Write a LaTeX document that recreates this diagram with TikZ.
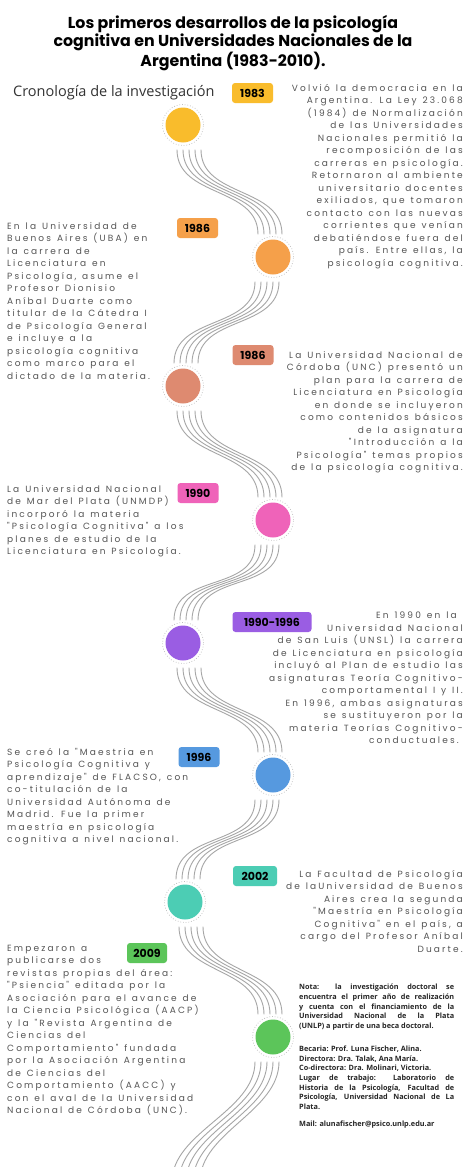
\documentclass[tikz,border=0pt]{standalone}
\usepackage{fontspec}
\setmainfont{Poppins}
\newfontfamily\bodyfam[LetterSpace=24,WordSpace=1.3]{Poppins}
\newfontfamily\cronofam{Open Sans}
\usetikzlibrary{calc}

\definecolor{txt}{HTML}{555555}
\definecolor{yel}{HTML}{F9BC2C}
\definecolor{ora}{HTML}{F5A04A}
\definecolor{sal}{HTML}{DE8A70}
\definecolor{pnk}{HTML}{EF63B9}
\definecolor{pur}{HTML}{9A5DE3}
\definecolor{blu}{HTML}{5699DF}
\definecolor{tea}{HTML}{4CCDB4}
\definecolor{grn}{HTML}{5CC55A}

\newcommand{\fTitle}{\fontsize{15.8}{17}\selectfont\bfseries}
\newcommand{\fYear}{\fontsize{11}{13}\selectfont\bfseries}
\newcommand{\fBody}{\bodyfam\fontsize{9}{12.5}\selectfont}
\newcommand{\fCrono}{\cronofam\fontsize{14.5}{16}\selectfont}
\newcommand{\fNote}{\cronofam\bfseries\fontsize{7.3}{9.6}\selectfont}

\begin{document}
\begin{tikzpicture}[x=1pt,y=-1pt,
  event/.style={circle,minimum size=35pt,inner sep=0pt},
  ring/.style={draw=gray!55,dotted,line width=0.7pt},
  wave/.style={draw=gray!70,line width=0.9pt},
  year/.style={rounded corners=3pt,minimum width=41pt,minimum height=20pt,inner sep=0pt,font=\fYear},
  lefttext/.style={anchor=north west,align=left,inner sep=0pt,font=\fBody,text=txt},
  righttext/.style={anchor=north east,align=right,inner sep=0pt,font=\fBody,text=txt},
  notetext/.style={anchor=north west,inner sep=0pt,text width=155pt,align=justify,font=\fNote,text=black!85}]

\fill[white] (0,0) rectangle (467,1167);
\useasboundingbox (0,0) rectangle (467,1167);

% title
\node[font=\fTitle,align=center] (title) at (233,43) {Los primeros desarrollos de la psicología\\cognitiva en Universidades Nacionales de la\\Argentina (1983-2010).};
\node[anchor=west,inner sep=0pt,font=\fCrono,text=black!80] (crono) at (13,93) {Cronología de la investigación};

% timeline dots
\node[event,fill=yel] (c1983) at (183,125) {};
\node[event,fill=ora] (c1986a) at (273,257) {};
\node[event,fill=sal] (c1986b) at (183,386) {};
\node[event,fill=pnk] (c1990) at (273,520) {};
\node[event,fill=pur] (c9096) at (183,643) {};
\node[event,fill=blu] (c1996) at (273,775) {};
\node[event,fill=tea] (c2002) at (185,902) {};
\node[event,fill=grn] (c2009) at (273,1037) {};
\coordinate (tail) at (186,1182);

\foreach \n in {c1983,c1986a,c1986b,c1990,c9096,c1996,c2002,c2009}
  \draw[ring] (\n) circle[radius=20.5pt];

% wavy bundles
\foreach \a/\b/\s in {c1983/c1986a/1,c1986a/c1986b/-1,c1986b/c1990/1,c1990/c9096/-1,c9096/c1996/1,c1996/c2002/-1,c2002/c2009/1}
  \foreach \i in {0,...,4}
    \draw[wave] ([xshift={(6*(\s)-12+6*\i)*1pt},yshift=-7pt]\a.south) .. controls +(0,48) and +(0,-48) .. ([xshift={(-3*(\s)-12+6*\i)*1pt},yshift=5pt]\b.north);
\foreach \i in {0,...,4}
  \draw[wave] ([xshift={(-18+6*\i)*1pt},yshift=-7pt]c2009.south) .. controls +(0,50) and +(0,-50) .. ([xshift={(-14+7*\i)*1pt}]tail);

% year labels
\node[year,fill=yel] (y1983) at (252.5,93) {1983};
\node[year,fill=ora] (y1986a) at (197.5,228) {1986};
\node[year,fill=sal] (y1986b) at (253,355) {1986};
\node[year,fill=pnk] (y1990) at (198,493) {1990};
\node[year,fill=pur,minimum width=79pt] (y9096) at (272,622) {1990-1996};
\node[year,fill=blu] (y1996) at (199,757) {1996};
\node[year,fill=tea,minimum width=44pt] (y2002) at (255,876) {2002};
\node[year,fill=grn,minimum width=40pt] (y2009) at (147,953) {2009};

% texts
\node[righttext] (t1983) at (463,84) {Volvió la democracia en la\\Argentina. La Ley 23.068\\(1984) de Normalización\\de las Universidades\\Nacionales permitió la\\recomposición de las\\carreras en psicología.\\Retornaron al ambiente\\universitario docentes\\exiliados, que tomaron\\contacto con las nuevas\\corrientes que venían\\debatiéndose fuera del\\país. Entre ellas, la\\psicología cognitiva.};
\node[lefttext] (t1986a) at (7,222) {En la Universidad de\\Buenos Aires (UBA) en\\la carrera de\\Licenciatura en\\Psicología, asume el\\Profesor Dionisio\\Aníbal Duarte como\\titular de la Cátedra I\\de Psicología General\\e incluye a la\\psicología cognitiva\\como marco para el\\dictado de la materia.};
\node[righttext] (t1986b) at (463,351) {La Universidad Nacional de\\Córdoba (UNC) presentó un\\plan para la carrera de\\Licenciatura en Psicología\\en donde se incluyeron\\como contenidos básicos\\de la asignatura\\"Introducción a la\\Psicología" temas propios\\de la psicología cognitiva.};
\node[lefttext] (t1990) at (7,485) {La Universidad Nacional\\de Mar del Plata (UNMDP)\\incorporó la materia\\"Psicología Cognitiva" a los\\planes de estudio de la\\Licenciatura en Psicología.};
\node[righttext] (t9096) at (463,612) {En 1990 en la\hspace*{6pt}\\Universidad Nacional\hspace*{4pt}\\de San Luis (UNSL) la carrera\\de Licenciatura en psicología\\incluyó al Plan de estudio las\\asignaturas Teoría Cognitivo-\\comportamental I y II.\\En 1996, ambas asignaturas\\se sustituyeron por la\\materia Teorías Cognitivo-\\conductuales.\hspace*{4pt}};
\node[lefttext] (t1996) at (7,748) {Se creó la "Maestria en\\Psicología Cognitiva y\\aprendizaje" de FLACSO, con\\co-titulación de la\\Universidad Autónoma de\\Madrid. Fue la primer\\maestría en psicología\\cognitiva a nivel nacional.};
\node[righttext] (t2002) at (463,870) {La Facultad de Psicología\\de laUniversidad de Buenos\\Aires crea la segunda\\"Maestría en Psicología\\Cognitiva" en el país, a\\cargo del Profesor Aníbal\\Duarte.};
\node[lefttext] (t2009) at (7,945) {Empezaron a\\publicarse dos\\revistas propias del área:\\"Psiencia" editada por la\\Asociación para el avance de\\la Ciencia Psicológica (AACP)\\y la "Revista Argentina de\\Ciencias del\\Comportamiento" fundada\\por la Asociación Argentina\\de Ciencias del\\Comportamiento (AACC) y\\con el aval de la Universidad\\Nacional de Córdoba (UNC).};

% note
\node[notetext] (nota) at (299,984) {Nota: la investigación doctoral se\linebreak encuentra el primer año de realización\linebreak y cuenta con el financiamiento de la\linebreak Universidad Nacional de la Plata\linebreak (UNLP) a partir de una beca doctoral.};
\node[notetext] (becaria) at (299,1046) {Becaria: Prof. Luna Fischer, Alina.\\Directora: Dra. Talak, Ana María.\\Co-directora: Dra. Molinari, Victoria.\\Lugar de trabajo: Laboratorio de\linebreak Historia de la Psicología, Facultad de\linebreak Psicología, Universidad Nacional de La\linebreak Plata.};
\node[notetext] (mail) at (299,1121) {Mail: alunafischer@psico.unlp.edu.ar};

\end{tikzpicture}
\end{document}
